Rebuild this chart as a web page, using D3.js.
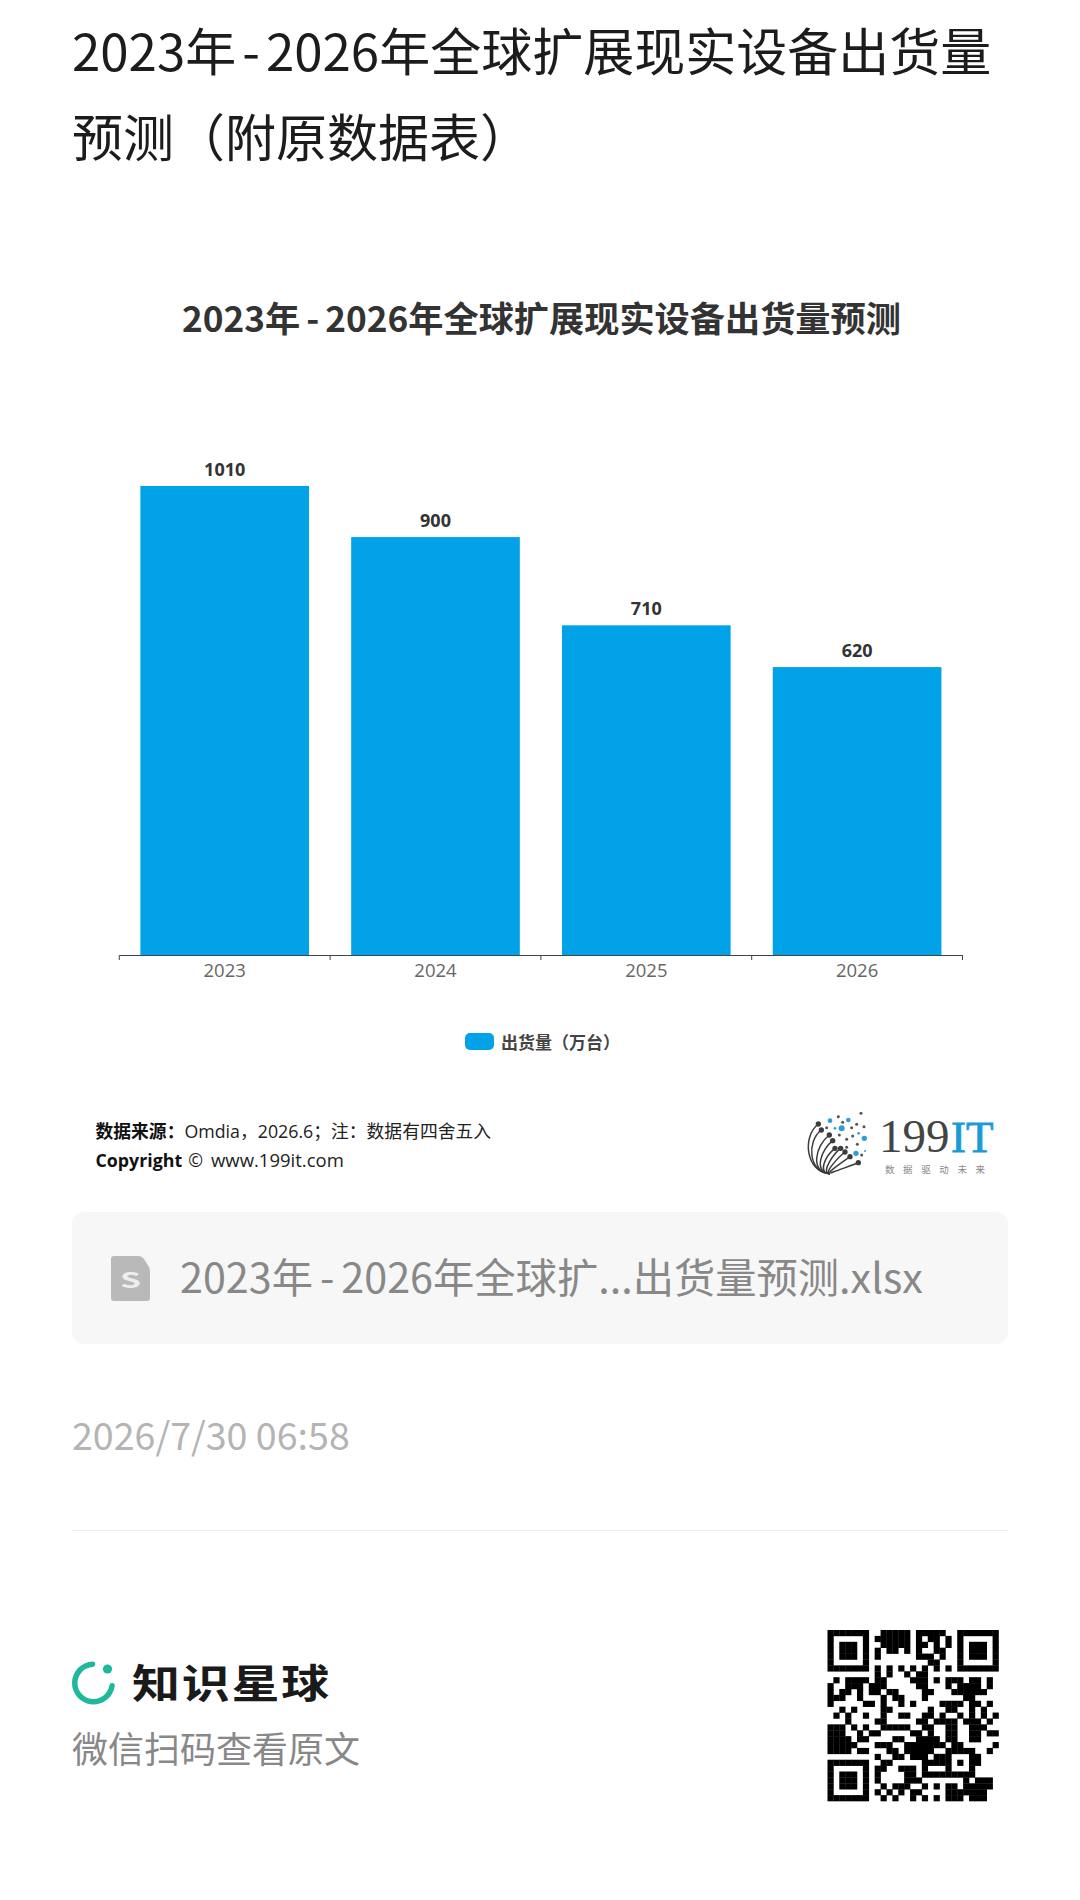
<!DOCTYPE html>
<html>
<head>
<meta charset="utf-8">
<script src="https://cdn.jsdelivr.net/npm/d3@7"></script>
<style>
body { margin: 0; background: #fff; }
text { font-family: "Noto Sans CJK SC", sans-serif; }
.latin { font-family: "Open Sans", "Noto Sans CJK SC", sans-serif; }
</style>
</head>
<body>
<svg id="svg1" width="1080" height="1900"></svg>
<script>
var years = ['2023', '2024', '2025', '2026'];
var shipments = [1010, 900, 710, 620];
var seriesName = '出货量（万台）';
var chartTitle = '2023年-2026年全球扩展现实设备出货量预测';
var pageTitle = ['2023年-2026年全球扩展现实设备出货量', '预测（附原数据表）'];

// qr code modules
var qrRows = [
'11111110011111011111001111111',
'10000010111111010110101000001',
'10111010011111011010101011101',
'10111010101101010011001011101',
'10111010100000011101001011101',
'10000010000000000110001000001',
'11111110101010101010101111111',
'00000000101001011000000000000',
'01011110110000111010111011010',
'10011101110000011000101111010',
'10110101101100001100011111100',
'11100100010110001000000110000',
'10000011010010100001111011010',
'00101000011000000100110010100',
'01010010010011001101001010101',
'00010000110000011011110111010',
'11101010011111001100110011100',
'11100101100000110100110011011',
'11110110000110011110110011000',
'11111000111001111111011000001',
'11110110001101111100111110010',
'00000000100110111011100011000',
'11111110011000001111101011000',
'10000010110011101000100010000',
'10111010100001101111111110000',
'10111010100001110000000101110',
'10111010010111001010110111110',
'10000010101010110000111111100',
'11111110010100101010111011100'
];

var svg = d3.select('svg');

// draws a text with extra room round its hyphen, the reference hyphen is wider
function withGap(sel, str, gap) {
    var parts = str.split('-');
    if (parts.length < 2) {
        sel.text(str);
        return;
    }
    sel.append('tspan').text(parts[0]);
    sel.append('tspan').attr('dx', gap).text('-');
    sel.append('tspan').attr('dx', gap).text(parts.slice(1).join('-'));
}

// page heading
svg.selectAll('.page-title')
    .data(pageTitle)
    .enter()
    .append('text')
    .attr('class', 'page-title')
    .attr('x', 72)
    .attr('y', function(d, i) { return 71 + i * 86; })
    .attr('font-size', 51)
    .attr('fill', '#1c1c1c')
    .each(function(d) { withGap(d3.select(this), d, 6); });

// chart title
withGap(svg.append('text')
    .attr('x', 182)
    .attr('y', 332)
    .attr('font-size', 35.2)
    .attr('font-weight', 700)
    .attr('fill', '#333'), chartTitle, 6);

// scales
var x = d3.scaleBand()
    .domain(years)
    .range([119.3, 962.5])
    .paddingInner(0.2)
    .paddingOuter(0.1);

var y = d3.scaleLinear()
    .domain([0, 1010])
    .range([955, 486]);

// bars
svg.selectAll('.bar')
    .data(shipments)
    .enter()
    .append('rect')
    .attr('class', 'bar')
    .attr('x', function(d, i) { return x(years[i]); })
    .attr('y', function(d) { return y(d); })
    .attr('width', x.bandwidth())
    .attr('height', function(d) { return y(0) - y(d); })
    .attr('fill', '#02a2e8');

// value labels
svg.selectAll('.value')
    .data(shipments)
    .enter()
    .append('text')
    .attr('class', 'value latin')
    .attr('x', function(d, i) { return x(years[i]) + x.bandwidth() / 2; })
    .attr('y', function(d) { return y(d) - 10; })
    .attr('text-anchor', 'middle')
    .attr('font-size', 18)
    .attr('font-weight', 700)
    .attr('fill', '#333')
    .text(function(d) { return d; });

// axis, ticks sit on the band edges so they are added by hand
var axis = svg.append('g')
    .attr('transform', 'translate(0,' + y(0) + ')')
    .call(d3.axisBottom(x).tickSize(0).tickPadding(9).tickSizeOuter(0));
axis.select('.domain').attr('stroke', '#444');
axis.selectAll('text')
    .attr('class', 'latin')
    .attr('font-size', 18.5)
    .attr('fill', '#666');
axis.selectAll('.edge')
    .data(d3.range(years.length + 1))
    .enter()
    .append('line')
    .attr('class', 'edge')
    .attr('x1', function(d) { return 119.3 + d * x.step(); })
    .attr('x2', function(d) { return 119.3 + d * x.step(); })
    .attr('y1', 0)
    .attr('y2', 5)
    .attr('stroke', '#444');

// legend
svg.append('rect')
    .attr('x', 465).attr('y', 1033)
    .attr('width', 29).attr('height', 17)
    .attr('rx', 5)
    .attr('fill', '#02a2e8');
svg.append('text')
    .attr('x', 501).attr('y', 1049)
    .attr('font-size', 17)
    .attr('font-weight', 700)
    .attr('fill', '#444')
    .text(seriesName);

// source note
var note = svg.append('text').attr('class', 'latin').attr('x', 95.5).attr('y', 1138).attr('font-size', 17.8).attr('fill', '#222');
note.append('tspan').attr('font-weight', 700).attr('fill', '#111').text('数据来源：');
note.append('tspan').text('Omdia，2026.6；注：数据有四舍五入');
var copy = svg.append('text').attr('class', 'latin').attr('x', 95.5).attr('y', 1167).attr('font-size', 17.8).attr('fill', '#222');
copy.append('tspan').attr('font-weight', 700).attr('fill', '#111').text('Copyright');
copy.append('tspan').attr('dx', 6).text('©');
copy.append('tspan').attr('dx', 8).attr('font-size', 18.5).text('www.199it.com');

// 199IT logo, drawn in zoomed crop units
var logo = svg.append('g').attr('transform', 'translate(780,1090) scale(0.3333)');
var stems = [[115,102,1],[124,120,0.9],[148,135,0.85],[158,152,0.7],[165,175,0.55],[182,175,0.42],[195,186,0.3],[210,200,0.2],[235,218,0.1]];
var greyDots = [[175,80],[243,70],[188,97],[230,103],[252,110],[140,113],[215,113],[178,135],[200,148],[218,138],[232,163],[200,172],[245,195]];
var blueDots = [[150,92,7],[205,90,7],[185,115,9],[165,115,4],[236,130,4],[253,145,8],[228,190,8],[255,183,3]];
logo.selectAll('.stem').data(stems).enter().append('path')
    .attr('d', function(d) {
        return 'M150,251 C' + (150 - 72 * d[2]) + ',' + (251 - 3 * d[2]) + ' ' + (d[0] - 50 * d[2]) + ',' + (d[1] + 38 * d[2]) + ' ' + d[0] + ',' + d[1];
    })
    .attr('fill', 'none').attr('stroke', '#3c3c3c').attr('stroke-width', 4.5);
logo.selectAll('.head').data(stems).enter().append('circle')
    .attr('cx', function(d) { return d[0]; }).attr('cy', function(d) { return d[1]; })
    .attr('r', 8).attr('fill', '#3c3c3c');
logo.selectAll('.grey').data(greyDots).enter().append('circle')
    .attr('cx', function(d) { return d[0]; }).attr('cy', function(d) { return d[1]; })
    .attr('r', 4.5).attr('fill', '#555');
logo.selectAll('.blue').data(blueDots).enter().append('circle')
    .attr('cx', function(d) { return d[0]; }).attr('cy', function(d) { return d[1]; })
    .attr('r', function(d) { return d[2]; }).attr('fill', '#2a9fd8');
svg.append('text').attr('x', 879).attr('y', 1152)
    .style('font-family', '"Liberation Serif", serif').attr('font-size', 47).attr('fill', '#444').text('199');
svg.append('text').attr('x', 951).attr('y', 1152)
    .style('font-family', '"Liberation Serif", serif').attr('font-size', 45)
    .attr('fill', '#1b9ad6').attr('stroke', '#1b9ad6').attr('stroke-width', 0.8).text('IT');
svg.append('text').attr('x', 885).attr('y', 1173)
    .attr('font-size', 9.5).attr('letter-spacing', 8.6).attr('fill', '#888').text('数据驱动未来');

// attachment card
svg.append('rect')
    .attr('x', 72).attr('y', 1212)
    .attr('width', 936).attr('height', 132)
    .attr('rx', 12)
    .attr('fill', '#f7f7f7');
svg.append('path')
    .attr('d', 'M114,1256 H139 Q142,1256 144,1259 L149,1267 Q150,1269 150,1272 V1298 Q150,1301 147,1301 H114 Q111,1301 111,1298 V1259 Q111,1256 114,1256 Z')
    .attr('fill', '#b9b9b9');
svg.append('text')
    .attr('transform', 'translate(130.5,1288) scale(1.6,1)')
    .attr('text-anchor', 'middle')
    .attr('font-size', 21).attr('font-weight', 700)
    .attr('fill', '#eee')
    .text('S');
withGap(svg.append('text')
    .attr('x', 180).attr('y', 1293)
    .attr('font-size', 41.3)
    .attr('fill', '#888'), '2023年-2026年全球扩...出货量预测.xlsx', 7);

// date and rule
svg.append('text')
    .attr('x', 72).attr('y', 1449.5)
    .attr('font-size', 37.6)
    .attr('fill', '#b4b4b4')
    .text('2026/7/30 06:58');
svg.append('line')
    .attr('x1', 72).attr('x2', 1008)
    .attr('y1', 1530.5).attr('y2', 1530.5)
    .attr('stroke', '#eee');

// knowledge planet mark
var ring = d3.arc().innerRadius(16).outerRadius(21.5).cornerRadius(2.7)
    .startAngle(Math.PI * 0.5).endAngle(Math.PI * 2.03);
svg.append('path')
    .attr('transform', 'translate(93.5,1683)')
    .attr('d', ring())
    .attr('fill', '#1fb89c');
svg.append('circle').attr('cx', 107.5).attr('cy', 1669).attr('r', 4.6).attr('fill', '#1fb89c');
svg.append('text')
    .attr('transform', 'translate(132,1698) scale(1.2,1)')
    .attr('font-size', 40).attr('font-weight', 700)
    .attr('letter-spacing', 1.5)
    .attr('fill', '#1a1a1a')
    .text('知识星球');
svg.append('text')
    .attr('x', 72).attr('y', 1763)
    .attr('font-size', 36)
    .attr('fill', '#888')
    .text('微信扫码查看原文');

// qr code
var qrX = d3.scaleBand().domain(d3.range(29)).range([827.5, 998.5]);
var qrY = d3.scaleBand().domain(d3.range(29)).range([1630, 1801]);
var cells = [];
qrRows.forEach(function(row, r) {
    row.split('').forEach(function(c, k) {
        if (c === '1') cells.push({ r: r, k: k });
    });
});
svg.selectAll('.qr')
    .data(cells)
    .enter()
    .append('rect')
    .attr('class', 'qr')
    .attr('x', function(d) { return qrX(d.k); })
    .attr('y', function(d) { return qrY(d.r); })
    .attr('width', qrX.bandwidth() + 0.3)
    .attr('height', qrY.bandwidth() + 0.3)
    .attr('fill', '#000');
</script>
</body>
</html>
